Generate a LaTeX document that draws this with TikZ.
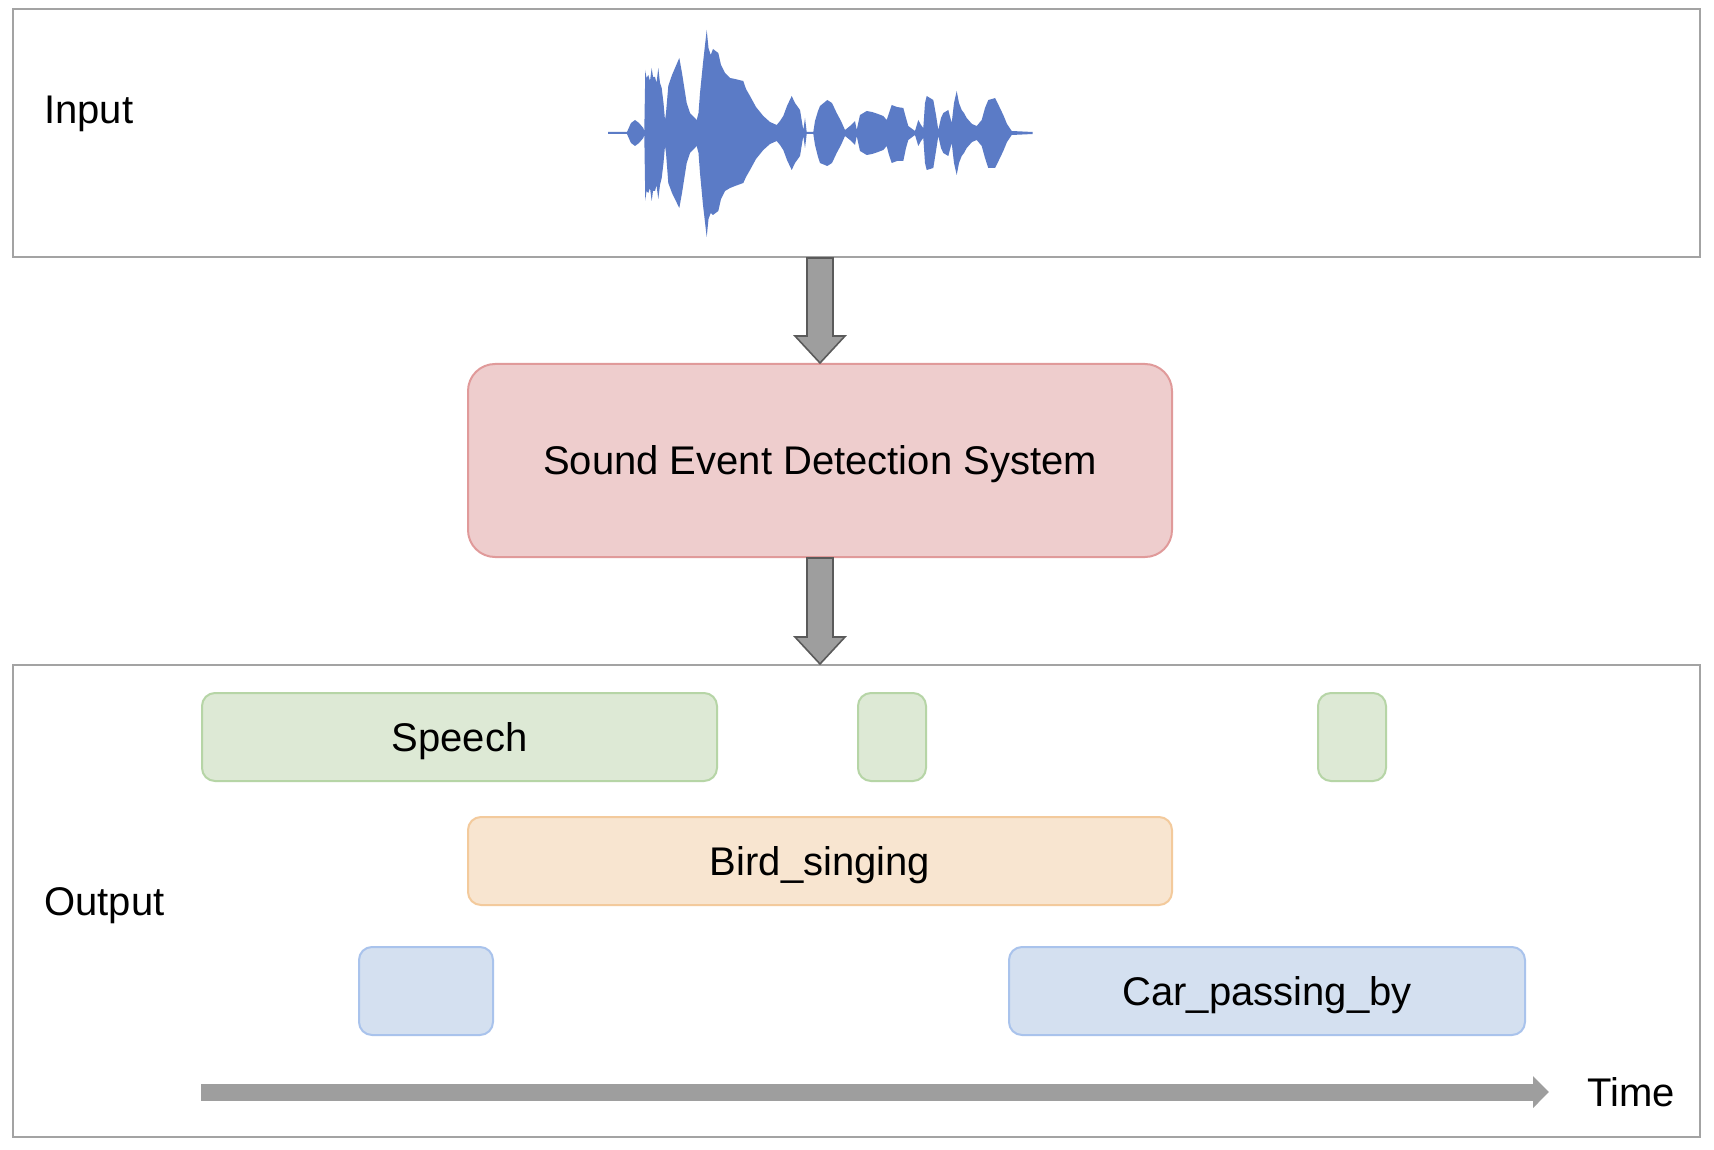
\documentclass[tikz,border=0pt]{standalone}
\usepackage{fontspec}
\setmainfont{Liberation Sans}
\usetikzlibrary{fit,calc,arrows.meta}
\definecolor{panelgray}{HTML}{A3A3A3}
\definecolor{arrowfill}{HTML}{9E9E9E}
\definecolor{arrowline}{HTML}{5A5A5A}
\definecolor{sedfill}{HTML}{EECDCD}
\definecolor{sedline}{HTML}{E09A9A}
\definecolor{grfill}{HTML}{DDE9D5}
\definecolor{grline}{HTML}{B6D5A6}
\definecolor{orfill}{HTML}{F8E5D0}
\definecolor{orline}{HTML}{F3CA9C}
\definecolor{blfill}{HTML}{D4E0F0}
\definecolor{blline}{HTML}{A9C3EC}
\definecolor{wave}{HTML}{5B7BC6}
\tikzset{
  panel/.style={draw=panelgray, line width=1pt, inner sep=0pt, fill=white},
  sedbox/.style={draw=sedline, fill=sedfill, line width=1pt, rounded corners=13.5pt, inner sep=0pt},
  greenbox/.style={draw=grline, fill=grfill, line width=1pt, rounded corners=6.5pt, inner sep=0pt},
  orangebox/.style={draw=orline, fill=orfill, line width=1pt, rounded corners=6.5pt, inner sep=0pt},
  bluebox/.style={draw=blline, fill=blfill, line width=1pt, rounded corners=6.5pt, inner sep=0pt},
  lbl/.style={font=\fontsize{20pt}{24pt}\selectfont, inner sep=0pt, text height=14.3pt, text depth=0pt},
  flowarrow/.style={fill=arrowfill, draw=arrowline, line width=0.8pt, line join=miter},
  timearrow/.style={draw=arrowfill, line width=8.5pt, -{Triangle[length=8pt,width=15.5pt]}}
}
\begin{document}
\begin{tikzpicture}[x=0.5pt,y=-0.5pt]
\useasboundingbox (0,0) rectangle (1714,1150);
% panels
\node[panel, fit={(13,9) (1700,257)}] (input) {};
\node[panel, fit={(13,665) (1700,1137)}] (output) {};
\node[lbl, anchor=west] (inlbl) at (44,109) {Input};
\node[lbl, anchor=west] (outlbl) at (44,901) {Output};
% waveform
\fill[wave] (608,133) \foreach \x/\a in {608/1,627/1,628.3/4,631/10,635/13,639/10,643.3/5,644.3/2,645.3/63,646.5/55,648.3/58,650/52,651.7/65,653/56,655/56,656.5/50,658.3/65,660/50,661.7/45,663.5/30,665/13,666/20,668.3/47,672/58,679.3/75,682/60,686.7/30,690/20,696.7/13,698.5/20,700/40,703/70,706.7/103,708.5/85,710.7/78,713/84,718.3/80,721/68,725/60,730/55,735/54,743.3/52,746/44,750/37,756/26,763.3/17,770/11,776.7/8,780/12,783.3/17,787/27,791.7/37,795/30,800/23,803.3/3,805/15,806.7/1,813.3/1,815/12,818/22,820/27,827.3/33,832/30,836.7/20,841/12,845/3,850/7,855/12,856.7/3,860/18,866.7/22,872/21,878/19,883.3/17,886.7/13,889/20,891.7/28,897/26,903.3/25,906/15,908.3/7,915/2,918.3/13,921/8,923.3/5,925/30,926.7/37,930/35,933.3/33,936/18,938.3/3,941/15,943.3/20,948.3/23,951.7/10,954/30,956.7/42,959/30,961.7/23,964/20,966.7/15,972/9,976.7/7,981.7/13,985/25,988.3/33,992/34,995/35,999/27,1003.3/18,1007/9,1011.7/2,1032.7/1} {-- (\x,{133-\a})} -- (1032.7,133) -- cycle;
\fill[wave] (608,133) \foreach \x/\a in {608/1,627/1,628.3/4,631/10,635/13,639/10,643.3/5,644.3/2,645.3/68,646.5/58,648.3/60,650/55,651.7/68,653/58,655/58,656.5/52,658.3/66,660/52,661.7/45,663.5/30,665/13,666/20,668.3/50,672/60,679.3/75,682/60,686.7/30,690/20,696.7/13,698.5/20,700/40,703/72,706.7/104,708.5/86,710.7/80,713/82,718.3/78,721/66,725/58,730/55,735/53,743.3/50,746/44,750/37,756/26,763.3/17,770/11,776.7/8,780/12,783.3/17,787/27,791.7/37,795/30,800/23,803.3/3,805/15,806.7/1,813.3/1,815/12,818/24,820/30,827.3/33,832/30,836.7/20,841/12,845/3,850/7,855/12,856.7/3,860/18,866.7/22,872/21,878/19,883.3/17,886.7/13,889/22,891.7/30,897/28,903.3/28,906/15,908.3/7,915/2,918.3/13,921/8,923.3/5,925/30,926.7/37,930/36,933.3/35,936/18,938.3/3,941/15,943.3/20,948.3/23,951.7/10,954/30,956.7/42,959/30,961.7/23,964/20,966.7/15,972/9,976.7/7,981.7/13,985/25,988.3/35,992/35,995/35,999/27,1003.3/18,1007/9,1011.7/2,1032.7/1} {-- (\x,{133+\a})} -- (1032.7,133) -- cycle;
% SED box
\node[sedbox, fit={(468,364) (1172,557)}] (sed) {};
\node[lbl] (sedlbl) at (sed.center) {Sound Event Detection System};
% flow arrows
\coordinate (a1s) at (input.south -| sed.north);
\coordinate (a2e) at (output.north -| sed.south);
\draw[flowarrow] ($(a1s)+(-13,0)$) -- ($(sed.north)+(-13,-27)$) -- ($(sed.north)+(-25,-27)$) -- (sed.north) -- ($(sed.north)+(25,-27)$) -- ($(sed.north)+(13,-27)$) -- ($(a1s)+(13,0)$) -- cycle;
\draw[flowarrow] ($(sed.south)+(-13,0)$) -- ($(a2e)+(-13,-27)$) -- ($(a2e)+(-25,-27)$) -- (a2e) -- ($(a2e)+(25,-27)$) -- ($(a2e)+(13,-27)$) -- ($(sed.south)+(13,0)$) -- cycle;
% event boxes
\node[greenbox, fit={(202,693) (717,781)}] (speech) {};
\node[lbl] (speechlbl) at (speech.center) {Speech};
\node[greenbox, fit={(858,693) (926,781)}] (g2) {};
\node[greenbox, fit={(1318,693) (1386,781)}] (g3) {};
\node[orangebox, fit={(468,817) (1172,905)}] (bird) {};
\node[lbl] (birdlbl) at (bird.center) {Bird\_singing};
\node[bluebox, fit={(359,947) (493,1035)}] (b1) {};
\node[bluebox, fit={(1009,947) (1525,1035)}] (car) {};
\node[lbl] (carlbl) at (car.center) {Car\_passing\_by};
% time axis
\coordinate (t0) at (201,1092);
\coordinate (t1) at (1549,1092);
\draw[timearrow] (t0) -- (t1);
\node[lbl, anchor=west] (timelbl) at (1587,1092) {Time};
\end{tikzpicture}
\end{document}
